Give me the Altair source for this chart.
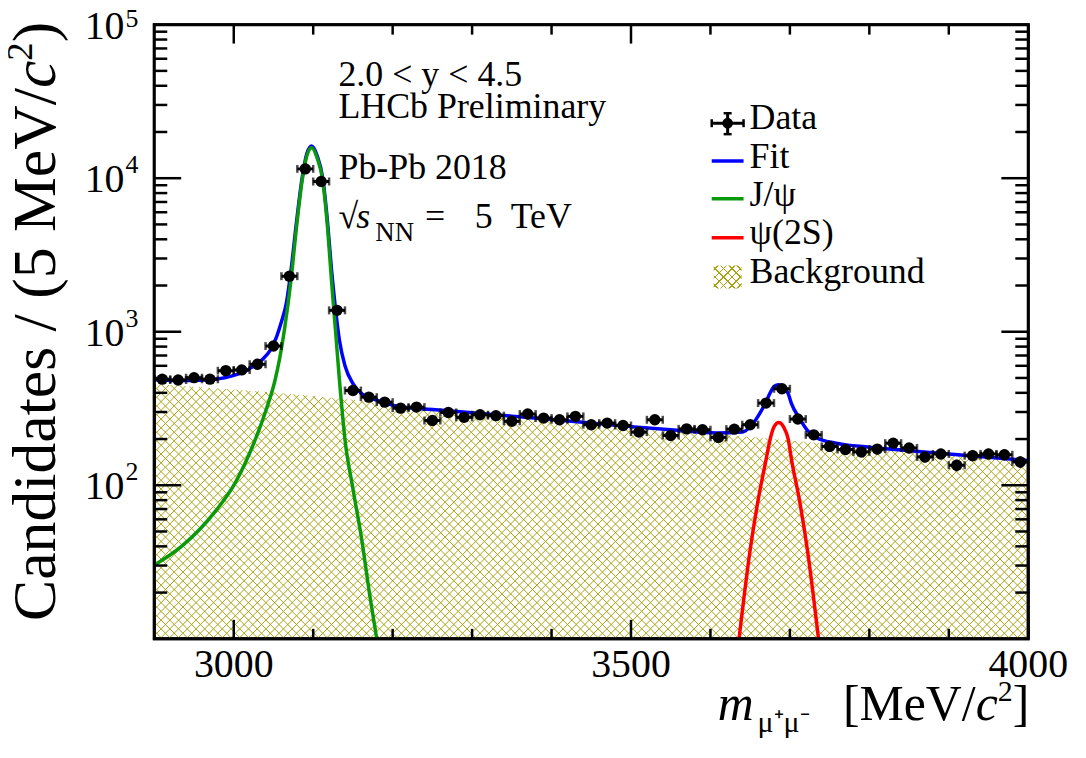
import math
import altair as alt
import pandas as pd

# ---------------- data ----------------
mass_bins = [2910, 2930, 2950, 2970, 2990, 3010, 3030, 3050, 3070, 3090, 3110,
             3130, 3150, 3170, 3190, 3210, 3230, 3250, 3270, 3290, 3310, 3330,
             3350, 3370, 3390, 3410, 3430, 3450, 3470, 3490, 3510, 3530, 3550,
             3570, 3590, 3610, 3630, 3650, 3670, 3690, 3710, 3730, 3750, 3770,
             3790, 3810, 3830, 3850, 3870, 3890, 3910, 3930, 3950, 3970, 3990]
counts = [491, 485, 502, 491, 558, 564, 614, 807, 2300, 11500, 9520,
          1378, 414, 375, 348, 318, 323, 264, 298, 277, 288, 284,
          261, 291, 274, 267, 281, 248, 254, 245, 222, 267, 211,
          233, 230, 205, 232, 248, 343, 425, 270, 213, 179, 171,
          165, 172, 188, 175, 153, 160, 135, 156, 160, 158, 142]

fit_m = [2900, 2925, 2950, 2975, 3000, 3020, 3036, 3046, 3054, 3060, 3066, 3072, 3079,
         3086, 3092, 3098, 3105, 3112, 3118, 3123, 3128, 3133, 3140, 3150,
         3161, 3180, 3207, 3250, 3300, 3350, 3400, 3450, 3500, 3558, 3608,
         3640, 3650, 3660, 3670, 3675, 3680, 3686, 3692, 3698, 3702, 3712,
         3722, 3733, 3758, 3800, 3850, 3900, 3950, 4000]
fit_v = [486, 481, 482, 490, 520, 575, 660, 760, 930, 1160, 1520, 2500, 5200,
         10000, 14500, 16200, 14000, 10000, 5200, 2550, 1420, 880, 600, 460,
         395, 358, 326, 312, 297, 282, 268, 254, 241, 228, 219,
         222, 240, 282, 350, 398, 439, 452, 436, 394, 340, 273,
         228, 205, 188, 177, 168, 160, 152, 145]

jpsi_m = [2900, 2935, 2977, 3002, 3027, 3040, 3052, 3058, 3064, 3072, 3079, 3086, 3092,
          3098, 3105, 3112, 3118, 3123, 3133, 3140, 3150, 3161, 3172, 3180]
jpsi_v = [30.2, 40.3, 67.9, 104, 198, 302, 485, 680, 1050, 2160, 4800, 9600, 14000,
          15800, 13500, 9600, 4800, 2160, 485, 198, 95, 44.5, 18, 10]

psi2s_m = [3636, 3650, 3660, 3670, 3675, 3680, 3686, 3692, 3698, 3702, 3712, 3722, 3736]
psi2s_v = [10, 38, 80, 147, 198, 240, 256, 240, 198, 147, 80, 38, 10]

bkg_m = [2900, 2950, 3000, 3050, 3100, 3150, 3200, 3250, 3300, 3350, 3400, 3450,
         3500, 3550, 3600, 3650, 3700, 3750, 3800, 3850, 3900, 3950, 4000]
bkg_v = [456, 438, 420, 402, 382, 360, 334, 313, 297, 282, 268, 254,
         241, 229, 217, 206, 196, 186, 177, 168, 160, 152, 145]

x_major = [3000, 3500, 4000]
x_major_labels = ["3000", "3500", "4000"]
x_minor = [3100, 3200, 3300, 3400, 3600, 3700, 3800, 3900]
y_major = [100, 1000, 10000, 100000]
y_major_exp = ["2", "3", "4", "5"]
y_minor = [m * d for d in (10, 100, 1000, 10000) for m in range(2, 10)]

# ---------------- styling ----------------
FONT = "Liberation Serif"
W, H = 878, 617
X_LO, X_HI, Y_LO, Y_HI = 2900, 4000, 10, 100000
BLUE, GREEN, RED, OLIVE = "#0000ff", "#0a990a", "#ff0000", "#a8a210"
CLEAR = "rgba(168,162,16,0)"

xs = alt.Scale(domain=[X_LO, X_HI], nice=False, zero=False)
ys = alt.Scale(type="log", domain=[Y_LO, Y_HI], nice=False)


def X(f):
    return alt.X(f, scale=xs, axis=None)


def Y(f):
    return alt.Y(f, scale=ys, axis=None)


one = pd.DataFrame({"k": [0]})


def txt(s, x, y, size, align="left", baseline="alphabetic", style="normal", angle=0, dy=0):
    kw = dict(text=s, font=FONT, fontSize=size, align=align, baseline=baseline,
              fontStyle=style, color="black")
    if angle:
        kw["angle"] = angle
    if dy:
        kw["dy"] = dy
    return alt.Chart(one).mark_text(**kw).encode(x=alt.value(x), y=alt.value(y))


def hrule(x1, x2, y, color, w=3.5):
    return alt.Chart(one).mark_rule(color=color, strokeWidth=w).encode(
        x=alt.value(x1), x2=alt.value(x2), y=alt.value(y))


def vrule(x, y1, y2, color, w=3.5):
    return alt.Chart(one).mark_rule(color=color, strokeWidth=w).encode(
        x=alt.value(x), y=alt.value(y1), y2=alt.value(y2))


# ---------------- background: cross-hatch under the background curve ----------------
# 45-degree hatch lines across the frame, then a white mask above the background curve
hatch_step = 11                                   # MeV between hatch lines
run = (X_HI - X_LO) * H / W                       # MeV spanned by a 45-degree line over full height
starts = list(range(int(X_LO - run) - hatch_step, X_HI + hatch_step, hatch_step))
hatch_df = pd.DataFrame({
    "a": starts + starts,
    "b": [s + run for s in starts] * 2,
    "ya": [Y_LO] * len(starts) + [Y_HI] * len(starts),
    "yb": [Y_HI] * len(starts) + [Y_LO] * len(starts),
})
hatch = alt.Chart(hatch_df).mark_rule(color=OLIVE, strokeWidth=1.0, clip=True).encode(
    x=X("a:Q"), x2="b:Q", y=Y("ya:Q"), y2="yb:Q")

bkg_df = pd.DataFrame({"m": bkg_m, "v": bkg_v, "top": [Y_HI] * len(bkg_m)})
mask = alt.Chart(bkg_df).mark_area(fill="white", clip=True, interpolate="monotone").encode(
    x=X("m:Q"), y=Y("v:Q"), y2="top:Q")


def curve(ms, vs, color):
    return alt.Chart(pd.DataFrame({"m": ms, "v": vs})).mark_line(
        color=color, strokeWidth=3.5, clip=True, interpolate="monotone").encode(
        x=X("m:Q"), y=Y("v:Q"))


fit = curve(fit_m, fit_v, BLUE)
jpsi = curve(jpsi_m, jpsi_v, GREEN)
psi2s = curve(psi2s_m, psi2s_v, RED)

# ---------------- data points ----------------
data_df = pd.DataFrame({"m": mass_bins, "v": counts})
base = alt.Chart(data_df).transform_calculate(
    lo="datum.m - 10", hi="datum.m + 10",
    elo="datum.v - sqrt(datum.v)", ehi="datum.v + sqrt(datum.v)")
xerr = base.mark_rule(color="black", strokeWidth=3, clip=True).encode(
    x=X("lo:Q"), x2="hi:Q", y=Y("v:Q"))
xcap = base.transform_fold(["lo", "hi"], as_=["end", "xe"]).mark_tick(
    orient="vertical", size=8, thickness=2.5, color="black", clip=True).encode(
    x=X("xe:Q"), y=Y("v:Q"))
yerr = base.mark_rule(color="black", strokeWidth=3, clip=True).encode(
    x=X("m:Q"), y=Y("elo:Q"), y2="ehi:Q")
dots = base.mark_circle(size=130, color="black", opacity=1, clip=True).encode(
    x=X("m:Q"), y=Y("v:Q"))


# ---------------- ticks (inward, all four sides) ----------------
def xticks(vals, length):
    df = pd.DataFrame({"m": vals})
    b = alt.Chart(df).mark_rule(color="black", strokeWidth=2.5).encode(
        x=X("m:Q"), y=alt.value(H), y2=alt.value(H - length))
    t = alt.Chart(df).mark_rule(color="black", strokeWidth=2.5).encode(
        x=X("m:Q"), y=alt.value(0), y2=alt.value(length))
    return [b, t]


def yticks(vals, length):
    df = pd.DataFrame({"v": vals})
    l = alt.Chart(df).mark_rule(color="black", strokeWidth=2.5).encode(
        y=Y("v:Q"), x=alt.value(0), x2=alt.value(length))
    r = alt.Chart(df).mark_rule(color="black", strokeWidth=2.5).encode(
        y=Y("v:Q"), x=alt.value(W), x2=alt.value(W - length))
    return [l, r]


ticks = xticks(x_major, 19) + xticks(x_minor, 10) + yticks(y_major[:-1], 27) + yticks(y_minor, 13)

frame = alt.Chart(one).mark_rect(fillOpacity=0, stroke="black", strokeWidth=3).encode(
    x=alt.value(0), x2=alt.value(W), y=alt.value(0), y2=alt.value(H))

# ---------------- tick labels ----------------
xlab = alt.Chart(pd.DataFrame({"m": x_major, "lab": x_major_labels})).mark_text(
    font=FONT, fontSize=40, align="center", baseline="alphabetic", color="black").encode(
    x=X("m:Q"), y=alt.value(655), text="lab:N")
ylab_df = pd.DataFrame({"v": y_major, "exp": y_major_exp, "ten": ["10"] * len(y_major)})
ylab = alt.Chart(ylab_df).mark_text(
    font=FONT, fontSize=40, align="right", baseline="middle", dy=2, color="black").encode(
    y=Y("v:Q"), x=alt.value(-30), text="ten:N")
yexp = alt.Chart(ylab_df).transform_filter("datum.v < 100000").mark_text(
    font=FONT, fontSize=26, align="left", baseline="middle", dy=-13, color="black").encode(
    y=Y("v:Q"), x=alt.value(-29), text="exp:N")
yexp_top = alt.Chart(ylab_df).transform_filter("datum.v >= 100000").mark_text(
    font=FONT, fontSize=26, align="left", baseline="middle", dy=-6, color="black").encode(
    y=Y("v:Q"), x=alt.value(-29), text="exp:N")

# ---------------- axis titles ----------------
SY = 62
yx = -100
y_end = -3
ytitle = [
    txt(")", yx, y_end, SY, align="right", angle=270),
    txt("2", yx - 23, y_end + 0.333 * SY, 37, align="right", angle=270),
    txt("c", yx, y_end + 0.333 * SY + 18.5, SY, align="right", angle=270, style="italic"),
    txt("Candidates / (5 MeV/", yx, y_end + 0.333 * SY + 18.5 + 0.444 * SY, SY,
        align="right", angle=270),
]
SX = 50
xb = 699
xr = W + 1
xtitle = [
    txt("]", xr, xb, SX, align="right"),
    txt("2", xr - 0.333 * SX, xb - 20, 30, align="right"),
    txt("c", xr - 0.333 * SX - 15, xb, SX, align="right", style="italic"),
    txt("[MeV/", xr - 0.333 * SX - 15 - 0.444 * SX, xb, SX, align="right"),
    txt("m", 566, xb, SX, style="italic"),
    txt("μ⁺μ⁻", 606, xb + 12, 30),
]

# ---------------- annotations ----------------
notes = [
    txt("2.0 < y < 4.5", 185, 62, 36),
    txt("LHCb Preliminary", 185, 94, 36),
    txt("Pb-Pb 2018", 185, 155, 36),
    txt("√", 185, 204, 36),
    txt("s", 203, 204, 36, style="italic"),
    txt("NN", 222, 217, 27),
    txt("=", 272, 204, 36),
    txt("5", 322, 204, 36),
    txt("TeV", 358, 204, 36),
]


# ---------------- legend ----------------
def box_hatch(w, h, spacing=8.5, lw=1.2):
    r = h / w
    dx = (1 + r) / (1 + r * r)
    dy = r * dx
    n = max(1, round((w + h) / spacing))
    lw_t = lw * math.sqrt(2) / (w + h)
    out = []
    for (x1, y1, x2, y2) in [(0, 0, dx, dy), (1, 0, 1 - dx, dy)]:
        stops = [alt.GradientStop(color=CLEAR, offset=0)]
        for k in range(n):
            c = (k + 0.5) / n
            a = round(max(0.0, c - lw_t / 2), 5)
            b = round(min(1.0, c + lw_t / 2), 5)
            stops += [alt.GradientStop(color=CLEAR, offset=a),
                      alt.GradientStop(color=OLIVE, offset=a),
                      alt.GradientStop(color=OLIVE, offset=b),
                      alt.GradientStop(color=CLEAR, offset=b)]
        stops.append(alt.GradientStop(color=CLEAR, offset=1))
        out.append(alt.LinearGradient(gradient="linear", stops=stops,
                                      x1=x1, y1=y1, x2=x2, y2=y2))
    return out


lx1, lx2, lxc, ltx = 560, 592, 576, 598
hA, hB = box_hatch(28, 23)
legend = [
    hrule(lx1, lx2, 99, "black", 3),
    vrule(lxc, 89, 110, "black", 3),
    vrule(lx1, 95, 103, "black", 2.5),
    vrule(lx2, 95, 103, "black", 2.5),
    hrule(lxc - 4, lxc + 4, 89, "black", 2.5),
    hrule(lxc - 4, lxc + 4, 110, "black", 2.5),
    alt.Chart(one).mark_circle(size=115, color="black", opacity=1).encode(
        x=alt.value(lxc), y=alt.value(99)),
    hrule(lx1, lx2, 137, BLUE),
    hrule(lx1, lx2, 175, GREEN),
    hrule(lx1, lx2, 214, RED),
    alt.Chart(one).mark_rect(fill=hA).encode(
        x=alt.value(562), x2=alt.value(590), y=alt.value(242), y2=alt.value(265)),
    alt.Chart(one).mark_rect(fill=hB).encode(
        x=alt.value(562), x2=alt.value(590), y=alt.value(242), y2=alt.value(265)),
    txt("Data", ltx, 105, 36),
    txt("Fit", ltx, 144, 36),
    txt("J/ψ", ltx, 182, 36),
    txt("ψ(2S)", ltx, 220, 36),
    txt("Background", ltx, 260, 36),
]

layers = ([hatch, mask, fit, jpsi, psi2s, xerr, xcap, yerr, dots] + ticks + [frame] +
          [xlab, ylab, yexp, yexp_top] + ytitle + xtitle + notes + legend)

chart = alt.layer(*layers).properties(
    width=W, height=H,
    autosize=alt.AutoSizeParams(type="none"),
    padding={"left": 147, "top": 15, "right": 50, "bottom": 115},
    background="white",
).configure_view(stroke="black", strokeWidth=3)

chart.save("out.html", embed_options={"renderer": "svg", "actions": False})
